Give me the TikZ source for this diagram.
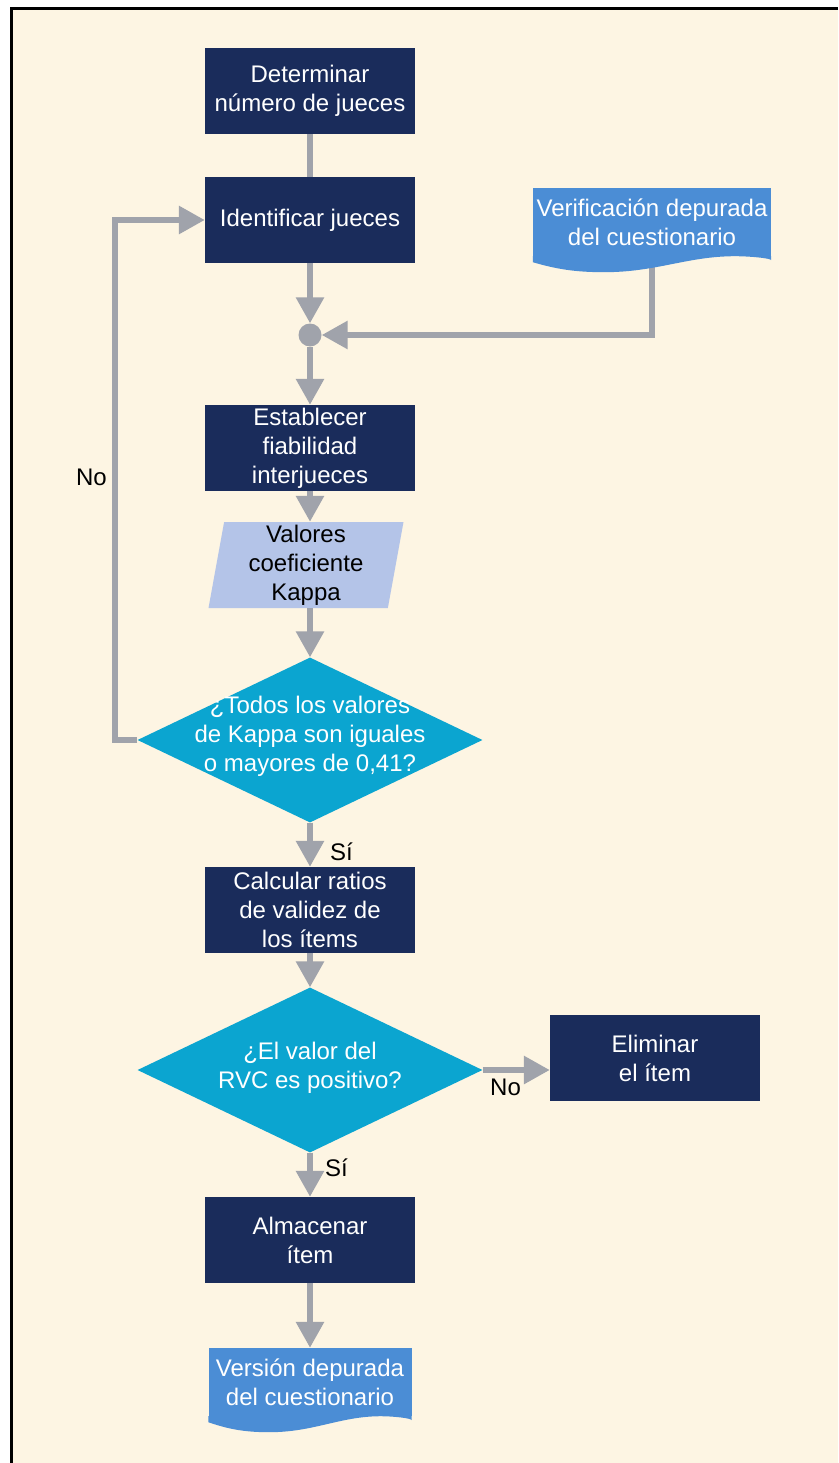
\documentclass[tikz,border=0pt]{standalone}
\usepackage{fontspec}
\setmainfont{Liberation Sans}
\usetikzlibrary{
    calc,positioning,arrows.meta,shapes.geometric
}

\definecolor{cream}{HTML}{FDF5E3}
\definecolor{navy}{HTML}{1A2C5B}
\definecolor{docblue}{HTML}{4B8DD5}
\definecolor{lilac}{HTML}{B4C4E8}
\definecolor{cyanq}{HTML}{0BA5D0}
\definecolor{flow}{HTML}{A0A3AB}

\tikzset{
    proc/.style={rectangle, fill=navy, text=white, align=center,
        minimum width=210pt, minimum height=86pt, inner sep=0pt},
    docnode/.style={rectangle, fill=docblue, text=white, align=center, inner sep=0pt},
    iodata/.style={trapezium, trapezium left angle=79, trapezium right angle=101,
        trapezium stretches body, fill=lilac, text=black, align=center,
        minimum width=195pt, minimum height=86pt, inner sep=0pt},
    decision/.style={diamond, fill=cyanq, minimum width=345pt, minimum height=165pt, inner sep=0pt},
    qtext/.style={text=white, align=center, inner sep=0pt},
    junction/.style={circle, fill=flow, minimum size=23pt, inner sep=0pt},
    tag/.style={text=black, inner sep=0pt},
    flowline/.style={draw=flow, line width=6pt},
    flowarrow/.style={flowline, -{Triangle[width=27pt,length=26pt]}}
}

% wavy lower edge of a document node: #1 = node, #2 = its width
\newcommand{\wavybottom}[2]{%
    \fill[docblue] (#1.south west) -- ($(#1.south west)+(0,6)$)
        .. controls +(0.1*#2,7) and +(-0.12*#2,0) .. ($(#1.south west)+(0.3*#2,16)$)
        .. controls +(0.22*#2,0) and +(-0.2*#2,0) .. ($(#1.south west)+(0.85*#2,0)$)
        .. controls +(0.06*#2,0) and +(0,-2) .. ($(#1.south east)+(0,4)$)
        -- (#1.south east) -- cycle;}

\begin{document}
\begin{tikzpicture}[x=1pt, y=-1pt, font=\fontsize{24}{29}\selectfont]
    \useasboundingbox (0,0) rectangle (838,1463);
    \fill[white] (0,0) rectangle (838,1463);
    \fill[cream] (11,8) rectangle (838,1463);
    \draw[line width=3pt] (11.5,1463) -- (11.5,8.5) -- (838,8.5);

    \node[proc] (det) at (310,91) {Determinar\\número de jueces};
    \node[proc] (ide) at (310,220) {Identificar jueces};
    \node[docnode, minimum width=238pt, minimum height=68pt] (ver) at (652,222) {Verificación depurada\\del cuestionario};
    \node[junction] (jn) at (310,335) {};
    \node[proc] (est) at (310,448) {Establecer\\fiabilidad\\interjueces};
    \node[iodata] (val) at (306,565) {Valores\\coeficiente\\Kappa};
    \node[decision] (q1) at (310,740) {};
    \node[qtext] (q1txt) at (310,736) {¿Todos los valores\\de Kappa son iguales\\o mayores de 0,41?};
    \node[proc] (cal) at (310,910) {Calcular ratios\\de validez de\\los ítems};
    \node[decision] (q2) at (310,1070) {};
    \node[qtext] (q2txt) at (310,1068) {¿El valor del\\RVC es positivo?};
    \node[proc] (eli) at (655,1058) {Eliminar\\el ítem};
    \node[proc] (alm) at (310,1240) {Almacenar\\ítem};
    \node[docnode, minimum width=203pt, minimum height=68pt] (vd) at (310,1382) {Versión depurada\\del cuestionario};

    \draw[flowline] (det) -- (ide);
    \draw[flowarrow] (ide) -- (jn);
    \draw[flowarrow] (ver.south) |- (jn);
    \draw[flowarrow] (jn) -- (est);
    \draw[flowarrow] (est.south) -- (est.south |- val.north);
    \draw[flowarrow] (q1.north |- val.south) -- (q1.north);
    \draw[flowarrow] (q1.west) -- ++(-22,0) |- (ide.west);
    \draw[flowarrow] (q1) -- (cal);
    \draw[flowarrow] (cal) -- (q2);
    \draw[flowarrow] (q2.east) -- (q2.east -| eli.west);
    \draw[flowarrow] (q2) -- (alm);
    \draw[flowarrow] (alm) -- (vd);

    \node[tag, anchor=east] (noA) at (107,477) {No};
    \node[tag, anchor=west] (siA) at (330,852) {Sí};
    \node[tag, anchor=west] (noB) at (490,1087) {No};
    \node[tag, anchor=west] (siB) at (325,1168) {Sí};

    \wavybottom{ver}{238}
    \wavybottom{vd}{203}
\end{tikzpicture}
\end{document}
